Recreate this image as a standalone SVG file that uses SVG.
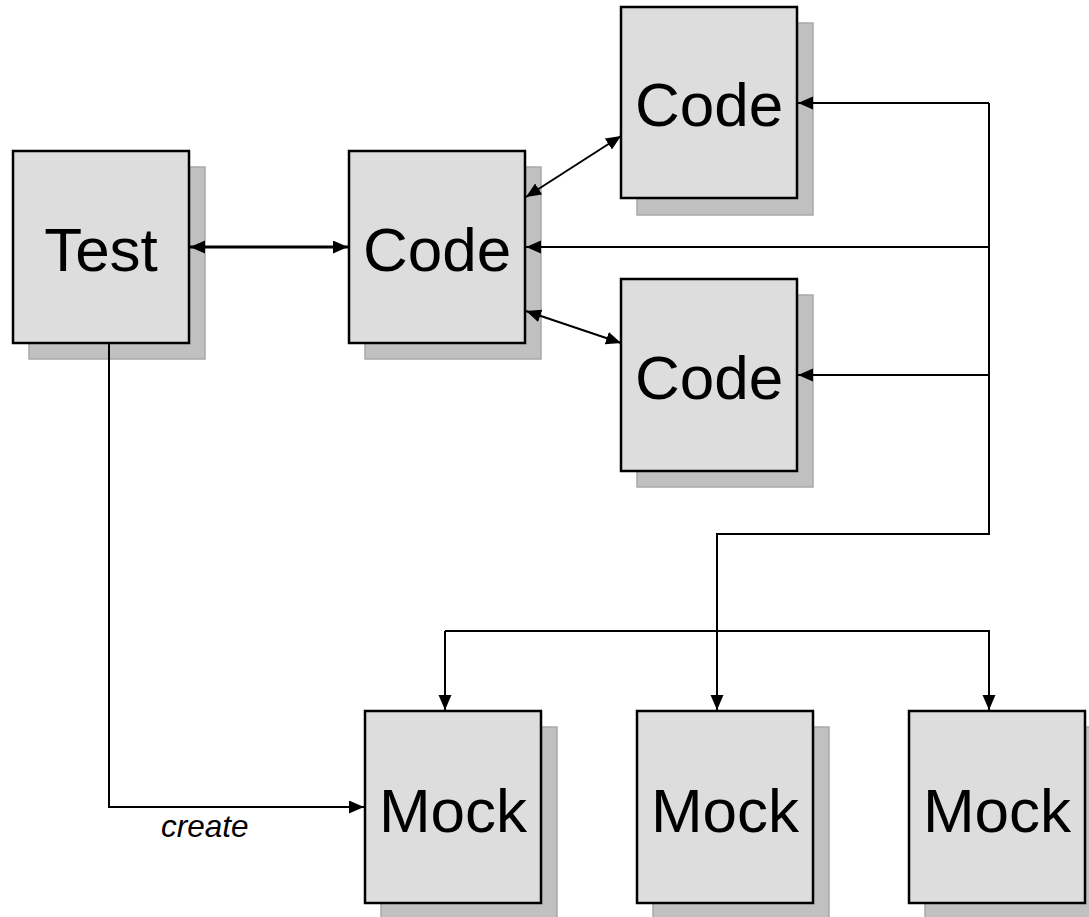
<svg xmlns="http://www.w3.org/2000/svg" width="1089" height="917" viewBox="0 0 1089 917">
<style>
.shadow{fill:#c0c0c0;stroke:#a8a8a8;stroke-width:1.5}
.box{fill:#dddddd;stroke:#000;stroke-width:2.5}
.lbl{font-family:"Liberation Sans",Arial,sans-serif;font-size:62px;fill:#000;text-anchor:middle}
.edge{fill:none;stroke:#000;stroke-width:2}
.thick{stroke-width:3}
.elbl{font-family:"Liberation Sans",Arial,sans-serif;font-size:31.5px;font-style:italic;fill:#000}
</style>
<defs>
<marker id="ah" markerUnits="userSpaceOnUse" markerWidth="16" markerHeight="14" refX="15" refY="6.5" orient="auto-start-reverse" viewBox="0 0 16 14">
<path d="M0,0 L15,6.5 L0,13 z" fill="#000"/>
</marker>
</defs>
<rect width="1089" height="917" fill="#fff"/>
<g id="test"><rect class="shadow" x="29" y="167" width="176" height="192"/><rect class="box" x="13" y="151" width="176" height="192"/><text class="lbl" x="101" y="271">Test</text></g>
<g id="code-center"><rect class="shadow" x="365" y="167" width="176" height="192"/><rect class="box" x="349" y="151" width="176" height="192"/><text class="lbl" x="437" y="271">Code</text></g>
<g id="code-top"><rect class="shadow" x="637" y="23" width="176" height="192"/><rect class="box" x="621" y="7" width="176" height="191"/><text class="lbl" x="709" y="126">Code</text></g>
<g id="code-bottom"><rect class="shadow" x="637" y="295" width="176" height="192"/><rect class="box" x="621" y="279" width="176" height="192"/><text class="lbl" x="709" y="399">Code</text></g>
<g id="mock1"><rect class="shadow" x="381" y="727" width="176" height="192"/><rect class="box" x="365" y="711" width="176" height="192"/><text class="lbl" x="453" y="832">Mock</text></g>
<g id="mock2"><rect class="shadow" x="653" y="727" width="176" height="192"/><rect class="box" x="637" y="711" width="176" height="192"/><text class="lbl" x="725" y="832">Mock</text></g>
<g id="mock3"><rect class="shadow" x="925" y="727" width="176" height="192"/><rect class="box" x="909" y="711" width="176" height="192"/><text class="lbl" x="997" y="832">Mock</text></g>
<g id="connectors">
<path class="edge thick" d="M190,247 L348,247" marker-start="url(#ah)" marker-end="url(#ah)"/>
<path class="edge" d="M526,197 L621,136" marker-start="url(#ah)" marker-end="url(#ah)"/>
<path class="edge" d="M526,311 L621,343" marker-start="url(#ah)" marker-end="url(#ah)"/>
<path class="edge" d="M989,103 L798,103" marker-end="url(#ah)"/>
<path class="edge" d="M989,247 L526,247" marker-end="url(#ah)"/>
<path class="edge" d="M989,375 L798,375" marker-end="url(#ah)"/>
<path class="edge" d="M989,103 L989,534 L717,534 L717,710" marker-end="url(#ah)"/>
<path class="edge" d="M445,631 L445,710" marker-end="url(#ah)"/>
<path class="edge" d="M445,631 L989,631 L989,710" marker-end="url(#ah)"/>
<path class="edge" d="M109,343 L109,807 L364,807" marker-end="url(#ah)"/>
<text class="elbl" x="161" y="837">create</text>
</g>
</svg>
